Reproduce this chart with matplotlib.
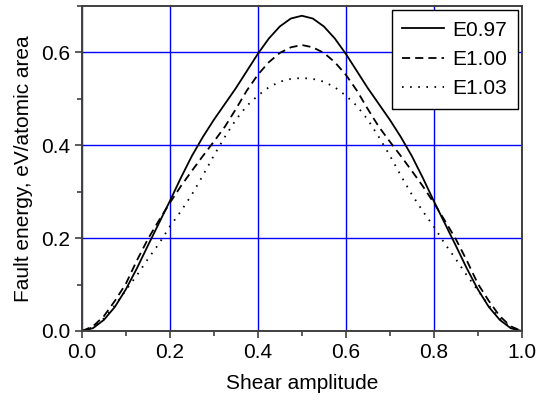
import matplotlib
matplotlib.use("Agg")
import matplotlib.pyplot as plt
from matplotlib.ticker import MultipleLocator

plt.rcParams['font.family'] = ['Liberation Sans', 'DejaVu Sans']

# shear amplitude
x = [0.0, 0.025, 0.05, 0.075, 0.1, 0.125, 0.15, 0.175, 0.2, 0.225,
     0.25, 0.275, 0.3, 0.325, 0.35, 0.375, 0.4, 0.425, 0.45, 0.475,
     0.5, 0.525, 0.55, 0.575, 0.6, 0.625, 0.65, 0.675, 0.7, 0.725,
     0.75, 0.775, 0.8, 0.825, 0.85, 0.875, 0.9, 0.925, 0.95, 0.975, 1.0]

# fault energy, eV/atomic area
e097 = [0.0, 0.006, 0.024, 0.052, 0.09, 0.135, 0.184, 0.232, 0.28, 0.33,
        0.377, 0.418, 0.455, 0.489, 0.523, 0.56, 0.597, 0.63, 0.656, 0.673,
        0.679, 0.673, 0.656, 0.63, 0.597, 0.56, 0.523, 0.489, 0.455, 0.418,
        0.377, 0.33, 0.28, 0.232, 0.184, 0.135, 0.09, 0.052, 0.024, 0.006, 0.0]
e100 = [0.0, 0.01, 0.032, 0.065, 0.102, 0.152, 0.198, 0.238, 0.276, 0.312,
        0.345, 0.377, 0.408, 0.44, 0.478, 0.518, 0.552, 0.579, 0.599, 0.611,
        0.616, 0.611, 0.599, 0.579, 0.552, 0.518, 0.478, 0.44, 0.408, 0.377,
        0.345, 0.312, 0.276, 0.238, 0.198, 0.152, 0.102, 0.065, 0.032, 0.01, 0.0]
e103 = [0.0, 0.008, 0.027, 0.055, 0.088, 0.12, 0.155, 0.188, 0.225, 0.258,
        0.294, 0.335, 0.378, 0.418, 0.455, 0.485, 0.507, 0.525, 0.537, 0.543,
        0.545, 0.543, 0.537, 0.525, 0.507, 0.485, 0.455, 0.418, 0.378, 0.335,
        0.294, 0.258, 0.225, 0.188, 0.155, 0.12, 0.088, 0.055, 0.027, 0.008, 0.0]

fig = plt.figure(figsize=(5.39, 4.0), dpi=100)
ax = fig.add_axes([0.152, 0.1725, 0.816, 0.8125])

ax.plot(x, e097, color='black', lw=1.3, label='E0.97')
ax.plot(x, e100, color='black', lw=1.3, dashes=(4.5, 2.8), label='E1.00')
ax.plot(x, e103, color='black', lw=1.3, dashes=(0.9, 3.6), label='E1.03')

ax.set_xlim(0, 1.0)
ax.set_ylim(0, 0.7)
ax.xaxis.set_major_locator(MultipleLocator(0.2))
ax.xaxis.set_minor_locator(MultipleLocator(0.1))
ax.yaxis.set_major_locator(MultipleLocator(0.2))
ax.yaxis.set_minor_locator(MultipleLocator(0.1))
ax.grid(True, which='major', color='#0000ff', lw=1.0)
ax.set_axisbelow(True)

for s in ax.spines.values():
    s.set_color('#404040')
    s.set_linewidth(1.4)
ax.tick_params(which='both', direction='out', colors='#404040', labelcolor='black',
               labelsize=15, width=1.2)
ax.tick_params(which='major', length=5)
ax.tick_params(which='minor', length=3.5)

ax.set_xlabel('Shear amplitude', fontsize=15, labelpad=9)
ax.set_ylabel('Fault energy, eV/atomic area', fontsize=15, labelpad=6)

leg = ax.legend(loc='upper right', fontsize=15, fancybox=False, framealpha=1,
                edgecolor='black', handlelength=2.0, handletextpad=0.4,
                labelspacing=0.5, borderaxespad=0.2, borderpad=0.5)
leg.get_frame().set_linewidth(1.0)

fig.savefig('out.png', dpi=100)
